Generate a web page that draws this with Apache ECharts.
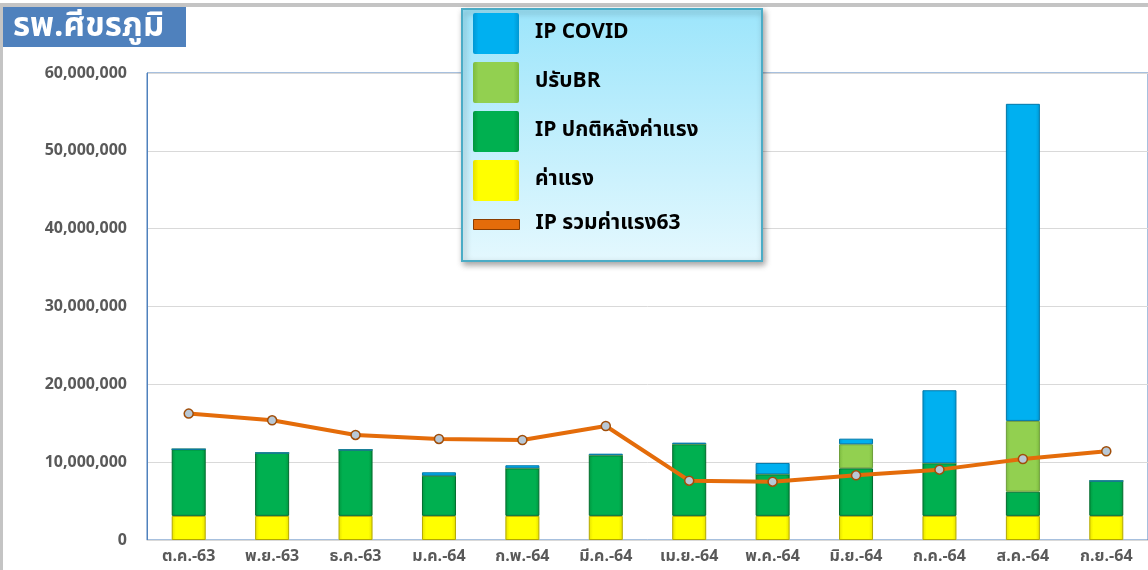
<!DOCTYPE html>
<html>
<head>
<meta charset="utf-8">
<script src="https://cdn.jsdelivr.net/npm/echarts@6/dist/echarts.min.js"></script>
<style>
  html, body { margin: 0; padding: 0; background: #fff; }
  #chart { width: 1148px; height: 570px; }
</style>
</head>
<body>
<div id="chart"></div>
<script>
// เดือน (แกน x)
const months = ['ต.ค.-63', 'พ.ย.-63', 'ธ.ค.-63', 'ม.ค.-64', 'ก.พ.-64', 'มี.ค.-64',
  'เม.ย.-64', 'พ.ค.-64', 'มิ.ย.-64', 'ก.ค.-64', 'ส.ค.-64', 'ก.ย.-64']

// ค่าแรง (ฐานล่างสุด)
const wage = [3100000, 3100000, 3100000, 3100000, 3100000, 3100000,
  3100000, 3100000, 3100000, 3100000, 3100000, 3100000]
// IP ปกติหลังค่าแรง
const ipNormal = [8560000, 8080000, 8470000, 5170000, 6110000, 7780000,
  9200000, 5340000, 6110000, 6760000, 3110000, 4480000]
// ปรับBR
const adjustBR = [0, 0, 0, 0, 0, 0, 0, 0, 3090000, 0, 9090000, 0]
// IP COVID
const ipCovid = [0, 0, 0, 430000, 390000, 210000, 210000, 1460000, 720000, 9380000, 40740000, 0]
// IP รวมค่าแรง63 (เส้น)
const ipTotal63 = [16240000, 15380000, 13500000, 12980000, 12850000, 14650000,
  7620000, 7490000, 8310000, 9040000, 10410000, 11400000]

// tick แกน y
const yTicks = [0, 10000000, 20000000, 30000000, 40000000, 50000000, 60000000]

const thaiFont = 'Tahoma, "Noto Sans Thai", "Open Sans", sans-serif'
const boxIcon = 'path://M2,0h42a2,2 0 0 1 2,2v37a2,2 0 0 1 -2,2h-42a2,2 0 0 1 -2,-2v-37a2,2 0 0 1 2,-2z'

const myChart = echarts.init(document.getElementById('chart'))

// แท่งแบบมีขอบเข้ม ให้ดูนูนเล็กน้อย
function barStyle(c1, c2, border) {
  return {
    color: new echarts.graphic.LinearGradient(0, 0, 1, 0, [
      { offset: 0, color: c2 },
      { offset: 0.12, color: c1 },
      { offset: 0.88, color: c1 },
      { offset: 1, color: c2 }
    ]),
    borderColor: border,
    borderWidth: 1
  }
}

const legendText = {
  fontSize: 21,
  fontWeight: 'bold',
  color: '#000',
  fontFamily: thaiFont,
  padding: [0, 0, 0, 11]
}

myChart.setOption({
  backgroundColor: '#fff',
  animation: false,
  graphic: [
    // กรอบเทาด้านบน/ซ้าย
    { type: 'rect', shape: { x: 0, y: 3, width: 1148, height: 4 }, style: { fill: '#c4c4c4' }, silent: true },
    { type: 'rect', shape: { x: 0, y: 3, width: 3, height: 567 }, style: { fill: '#c4c4c4' }, silent: true },
    // หัวเรื่อง
    { type: 'rect', shape: { x: 3, y: 7, width: 183, height: 40 }, style: { fill: '#4F81BD' }, silent: true },
    {
      type: 'text', left: 13, top: 13, silent: true,
      style: { text: 'รพ.ศีขรภูมิ', fill: '#fff', font: 'bold 33px ' + thaiFont }
    },
    // กล่อง legend
    {
      type: 'rect', z: 5, silent: true,
      shape: { x: 462, y: 9, width: 300, height: 252 },
      style: {
        fill: new echarts.graphic.LinearGradient(0, 0, 0, 1, [
          { offset: 0, color: '#9CE5FB' },
          { offset: 1, color: '#E4F8FE' }
        ]),
        stroke: '#4BACC6', lineWidth: 2,
        shadowBlur: 6, shadowOffsetX: 2, shadowOffsetY: 3, shadowColor: 'rgba(0,0,0,0.35)'
      }
    }
  ],
  legend: [
    {
      orient: 'vertical',
      left: 473,
      top: 13,
      padding: 0,
      itemWidth: 46,
      itemHeight: 41,
      itemGap: 8,
      z: 10,
      itemStyle: { borderWidth: 0 },
      textStyle: legendText,
      data: [
        { name: 'IP COVID', icon: boxIcon },
        { name: 'ปรับBR', icon: boxIcon },
        { name: 'IP ปกติหลังค่าแรง', icon: boxIcon },
        { name: 'ค่าแรง', icon: boxIcon }
      ]
    },
    {
      orient: 'vertical',
      left: 473,
      top: 214,
      padding: 0,
      itemWidth: 46,
      itemHeight: 26,
      z: 10,
      textStyle: legendText,
      data: [{
        name: 'IP รวมค่าแรง63',
        icon: 'path://M0,0h46v10h-46z',
        itemStyle: { color: '#E46C0A', borderColor: '#8a3d00', borderWidth: 1 }
      }]
    }
  ],
  grid: {
    left: 147,
    top: 73,
    width: 1005,
    height: 467,
    show: true,
    borderColor: '#4F81BD',
    borderWidth: 1
  },
  xAxis: {
    type: 'category',
    data: months,
    axisTick: { show: false },
    axisLine: { lineStyle: { color: '#d9d9d9', width: 1 } },
    axisLabel: {
      margin: 10,
      fontSize: 16,
      fontWeight: 'bold',
      color: '#595959',
      fontFamily: thaiFont
    }
  },
  yAxis: {
    type: 'value',
    min: yTicks[0],
    max: yTicks[yTicks.length - 1],
    interval: yTicks[1] - yTicks[0],
    axisLine: { show: true, lineStyle: { color: '#4F81BD' } },
    axisTick: { show: false },
    splitLine: { lineStyle: { color: '#d9d9d9' } },
    axisLabel: {
      margin: 20,
      fontSize: 16,
      fontWeight: 'bold',
      color: '#595959',
      fontFamily: '"Open Sans", sans-serif',
      formatter: v => v.toLocaleString('en-US')
    }
  },
  series: [
    {
      name: 'ค่าแรง', type: 'bar', stack: 'ip', barWidth: 34,
      itemStyle: barStyle('#FFFF00', '#E6E000', '#B3A800'),
      data: wage
    },
    {
      name: 'IP ปกติหลังค่าแรง', type: 'bar', stack: 'ip',
      itemStyle: barStyle('#00B050', '#00963F', '#006B2C'),
      data: ipNormal
    },
    {
      name: 'ปรับBR', type: 'bar', stack: 'ip',
      itemStyle: barStyle('#92D050', '#7DBB3F', '#6E9E3A'),
      data: adjustBR
    },
    {
      name: 'IP COVID', type: 'bar', stack: 'ip',
      itemStyle: barStyle('#00B0F0', '#0098D4', '#0077A8'),
      data: ipCovid
    },
    {
      name: 'IP รวมค่าแรง63', type: 'line', z: 4,
      symbol: 'circle', symbolSize: 9,
      lineStyle: { color: '#E46C0A', width: 4 },
      itemStyle: { color: '#B8C8D6', borderColor: '#A04E0A', borderWidth: 1.5 },
      data: ipTotal63
    }
  ]
})
</script>
</body>
</html>
